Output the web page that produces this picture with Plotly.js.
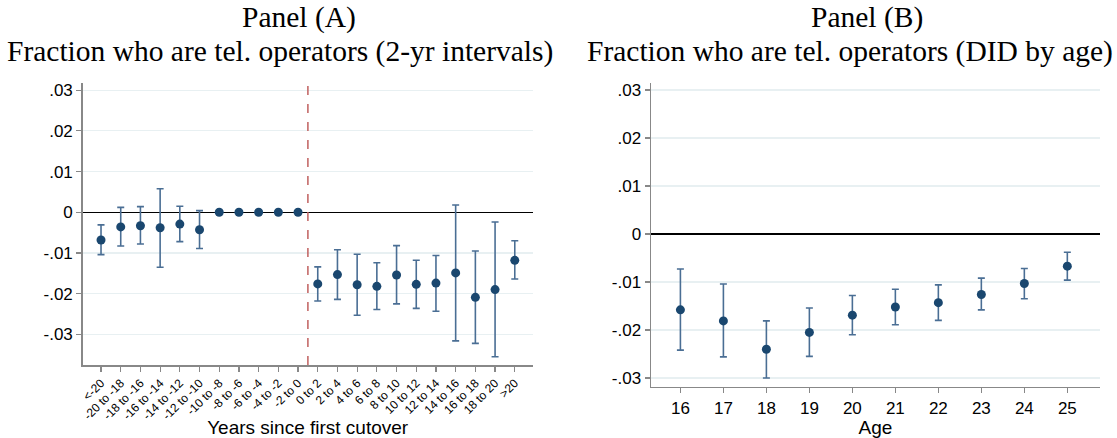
<!DOCTYPE html>
<html>
<head>
<meta charset="utf-8">
<script src="https://cdn.plot.ly/plotly-3.0.1.min.js"></script>
<style>html,body{margin:0;padding:0;background:#fff;}#chart{width:1117px;height:438px;}</style>
</head>
<body>
<div id="chart"></div>
<script>
// Panel A data
const catsA = ["<-20","-20 to -18","-18 to -16","-16 to -14","-14 to -12","-12 to -10","-10 to -8","-8 to -6","-6 to -4","-4 to -2","-2 to 0","0 to 2","2 to 4","4 to 6","6 to 8","8 to 10","10 to 12","12 to 14","14 to 16","16 to 18","18 to 20",">20"];
const estA = [-0.0068,-0.0036,-0.0033,-0.0038,-0.0029,-0.0043,0,0,0,0,0,-0.0176,-0.0153,-0.0178,-0.0182,-0.0154,-0.0177,-0.0174,-0.0149,-0.0209,-0.0190,-0.0118];
const hiA  = [-0.0031,0.0012,0.0014,0.0058,0.0015,0.0004,0,0,0,0,0,-0.0134,-0.0092,-0.0103,-0.0124,-0.0082,-0.0118,-0.0106,0.0018,-0.0095,-0.0024,-0.0070];
const loA  = [-0.0104,-0.0083,-0.0078,-0.0135,-0.0072,-0.0089,0,0,0,0,0,-0.0218,-0.0214,-0.0253,-0.0239,-0.0225,-0.0236,-0.0243,-0.0316,-0.0322,-0.0355,-0.0164];
// Panel B data
const ages = [16,17,18,19,20,21,22,23,24,25];
const estB = [-0.0158,-0.0181,-0.0240,-0.0205,-0.0169,-0.0152,-0.0143,-0.0126,-0.0103,-0.0067];
const hiB  = [-0.0073,-0.0104,-0.0181,-0.0154,-0.0128,-0.0115,-0.0106,-0.0092,-0.0072,-0.0038];
const loB  = [-0.0242,-0.0256,-0.0300,-0.0255,-0.0210,-0.0189,-0.0180,-0.0158,-0.0135,-0.0096];
const yTicks = [-0.03,-0.02,-0.01,0,0.01,0.02,0.03];
const yTickText = ["-.03","-.02","-.01","0",".01",".02",".03"];

const idxA = catsA.map((c,i)=>i);
const ciA = idxA.filter(i => hiA[i] !== loA[i]);
const markerColor = "#1a476f";
const barColor = "#4a6e94";

const W = 1117, H = 438;
const fx = p => p / W, fy = p => 1 - p / H;

const traces = [
  {x: ciA, y: ciA.map(i=>estA[i]), xaxis:"x", yaxis:"y", mode:"markers", type:"scatter",
   marker:{size:0.1, color:"rgba(0,0,0,0)"},
   error_y:{type:"data", symmetric:false, array: ciA.map(i=>hiA[i]-estA[i]), arrayminus: ciA.map(i=>estA[i]-loA[i]), color:barColor, thickness:1.6, width:3.5},
   hoverinfo:"skip", showlegend:false},
  {x: idxA, y: estA, xaxis:"x", yaxis:"y", mode:"markers", type:"scatter",
   marker:{size:9, color:markerColor}, showlegend:false},
  {x: ages, y: estB, xaxis:"x2", yaxis:"y2", mode:"markers", type:"scatter",
   marker:{size:0.1, color:"rgba(0,0,0,0)"},
   error_y:{type:"data", symmetric:false, array: ages.map((a,i)=>hiB[i]-estB[i]), arrayminus: ages.map((a,i)=>estB[i]-loB[i]), color:barColor, thickness:1.6, width:3.5},
   hoverinfo:"skip", showlegend:false},
  {x: ages, y: estB, xaxis:"x2", yaxis:"y2", mode:"markers", type:"scatter",
   marker:{size:9, color:markerColor}, showlegend:false}
];

const sans = "Liberation Sans, Arial, sans-serif";
const serif = "Liberation Serif, serif";
const tickFont = {family:sans, size:17, color:"#000"};
const axisCommon = {showline:true, linecolor:"#888", linewidth:1.5, ticks:"outside", ticklen:5, tickcolor:"#888", tickwidth:1.2, zeroline:false};
const yZero = {zeroline:true, zerolinecolor:"#000", zerolinewidth:1.5};

const layout = {
  width: W, height: H,
  margin:{l:0, r:0, t:0, b:0},
  paper_bgcolor:"#fff", plot_bgcolor:"#fff",
  showlegend:false,
  xaxis: Object.assign({}, axisCommon, {
    domain:[fx(82.7), fx(532.7)], anchor:"y",
    range:[-0.93, 21.91], tickmode:"array", tickvals: idxA, ticktext: catsA,
    tickangle:-45, tickfont:{family:sans, size:12, color:"#000"},
    showgrid:false,
    title:{text:"Years since first cutover", font:{family:sans, size:19, color:"#000"}, standoff:4}
  }),
  yaxis: Object.assign({}, axisCommon, yZero, {
    domain:[fy(365), fy(82.7)], anchor:"x",
    range:[-0.03752, 0.03184], tickmode:"array", tickvals:yTicks, ticktext:yTickText,
    tickfont: tickFont, showgrid:true, gridcolor:"#e8f0f2", gridwidth:1.2
  }),
  xaxis2: Object.assign({}, axisCommon, {
    domain:[fx(651), fx(1100)], anchor:"y2",
    range:[15.316, 25.76], tickmode:"array", tickvals: ages,
    tickfont: tickFont, showgrid:false,
    title:{text:"Age", font:{family:sans, size:19, color:"#000"}, standoff:2}
  }),
  yaxis2: Object.assign({}, axisCommon, yZero, {
    domain:[fy(386.7), fy(82.7)], anchor:"x2",
    range:[-0.03181, 0.03152], tickmode:"array", tickvals:yTicks, ticktext:yTickText,
    tickfont: tickFont, showgrid:true, gridcolor:"#e8f0f2", gridwidth:1.2
  }),
  shapes:[
    {type:"line", xref:"x", yref:"y domain", x0:10.5, x1:10.5, y0:0, y1:1, line:{color:"#c0605f", width:1.5, dash:"dash"}, layer:"above"}
  ],
  annotations:[
    {text:"Panel (A)", xref:"paper", yref:"paper", x:fx(299), y:fy(18), xanchor:"center", yanchor:"middle", showarrow:false,
     font:{family:serif, size:29.5, color:"#000"}},
    {text:"Fraction who are tel. operators (2-yr intervals)", xref:"paper", yref:"paper", x:fx(280), y:fy(51), xanchor:"center", yanchor:"middle", showarrow:false,
     font:{family:serif, size:29.5, color:"#000"}},
    {text:"Panel (B)", xref:"paper", yref:"paper", x:fx(867), y:fy(18), xanchor:"center", yanchor:"middle", showarrow:false,
     font:{family:serif, size:29.5, color:"#000"}},
    {text:"Fraction who are tel. operators (DID by age)", xref:"paper", yref:"paper", x:fx(850), y:fy(51), xanchor:"center", yanchor:"middle", showarrow:false,
     font:{family:serif, size:29.5, color:"#000"}}
  ]
};

Plotly.newPlot("chart", traces, layout, {staticPlot:true, displayModeBar:false});
</script>
</body>
</html>
